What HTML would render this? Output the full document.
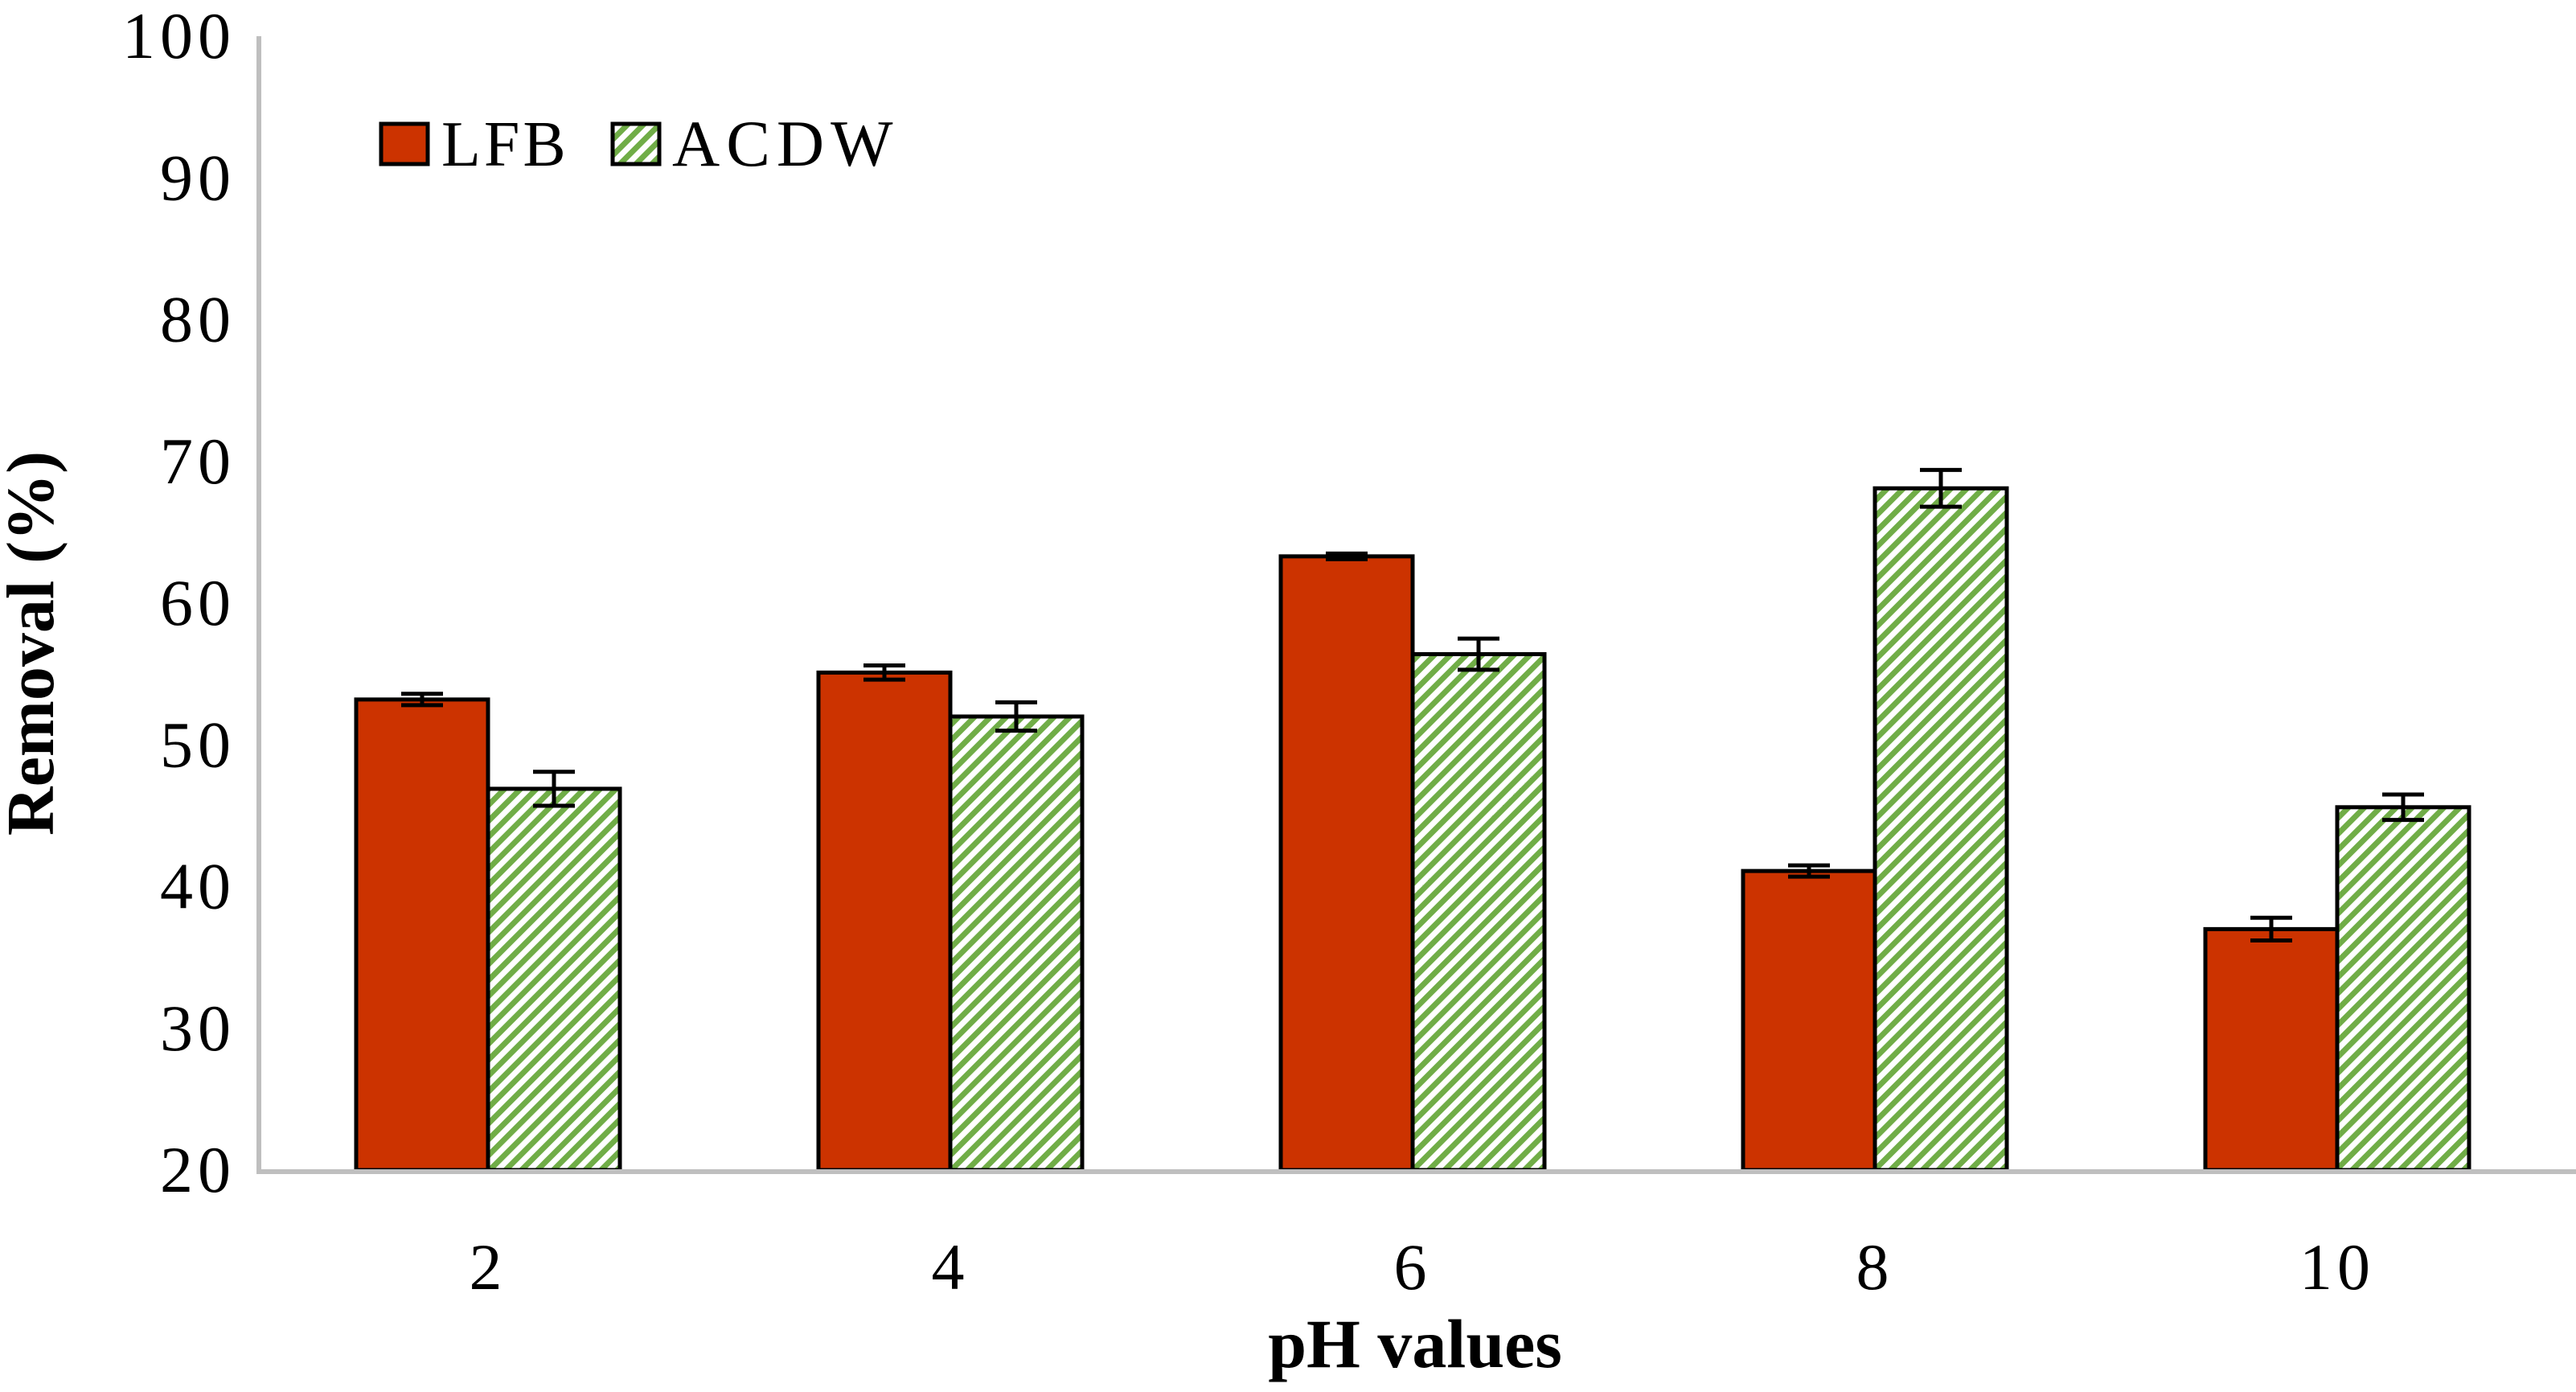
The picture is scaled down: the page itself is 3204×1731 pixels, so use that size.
<!DOCTYPE html>
<html><head><meta charset="utf-8">
<style>
html,body{margin:0;padding:0;background:#fff;}
svg{display:block;}
text{font-family:"Liberation Serif",serif;fill:#000;}
</style></head>
<body>
<svg id="chart" width="3204" height="1731" viewBox="0 0 3204 1731" xmlns="http://www.w3.org/2000/svg">
<defs>
<pattern id="hatch" patternUnits="userSpaceOnUse" width="14" height="14" patternTransform="rotate(45)">
<rect width="14" height="14" fill="#fff"/>
<rect x="0" y="0" width="7" height="14" fill="#70AD47"/>
</pattern>
</defs>
<g id="bars"></g>
<g id="axes"></g>
<g>
<rect x="474" y="154" width="58" height="50" fill="#CC3300" stroke="#000" stroke-width="5"/>
<text x="549" y="206" font-size="80" letter-spacing="4">LFB</text>
<rect x="762" y="154" width="58" height="50" fill="url(#hatch)" stroke="#000" stroke-width="5"/>
<text x="836" y="206" font-size="82" letter-spacing="8">ACDW</text>
</g>
<text x="1760" y="1700" font-size="86" font-weight="bold" text-anchor="middle">pH values</text>
<text transform="translate(66,800) rotate(-90)" font-size="84" font-weight="bold" text-anchor="middle">Removal (%)</text>
</svg>
<script>
const categories = ["2","4","6","8","10"];
const lfbValues = [53.2, 55.1, 63.3, 41.1, 37.0];
const lfbErrors = [0.4, 0.5, 0.2, 0.4, 0.8];
const acdwValues = [46.9, 52.0, 56.4, 68.1, 45.6];
const acdwErrors = [1.2, 1.0, 1.1, 1.3, 0.9];
const yTicks = [20,30,40,50,60,70,80,90,100];

const NS = "http://www.w3.org/2000/svg";
const plotL = 322, plotR = 3204, yMin = 20, yMax = 100, pxBottom = 1455, pxTop = 45;
const y = v => pxBottom - (v - yMin) / (yMax - yMin) * (pxBottom - pxTop);
const catW = 575;
const xc = i => 607 + catW * i;
const barW = 164;

function mk(tag, attrs, parent){
  const e = document.createElementNS(NS, tag);
  for (const k in attrs) e.setAttribute(k, attrs[k]);
  parent.appendChild(e);
  return e;
}
const bars = document.getElementById('bars');
const axes = document.getElementById('axes');

function errBar(cx, v, err, parent, name){
  const g = mk('g', {stroke:'#000','stroke-width':5}, parent);
  
  
  mk('line', {x1:cx, x2:cx, y1:y(v+err), y2:y(v-err)}, g);
  mk('line', {x1:cx-26, x2:cx+26, y1:y(v+err), y2:y(v+err)}, g);
  mk('line', {x1:cx-26, x2:cx+26, y1:y(v-err), y2:y(v-err)}, g);
}

categories.forEach((c, i) => {
  const cx = xc(i);
  const r1 = mk('rect', {x:cx-barW, y:y(lfbValues[i]), width:barW, height:y(yMin)-y(lfbValues[i]), fill:'#CC3300', stroke:'#000','stroke-width':5}, bars);
  
  
  const r2 = mk('rect', {x:cx, y:y(acdwValues[i]), width:barW, height:y(yMin)-y(acdwValues[i]), fill:'url(#hatch)', stroke:'#000','stroke-width':5}, bars);
  
  
  errBar(cx - barW/2, lfbValues[i], lfbErrors[i], bars, 'error-bar-lfb-ph' + c);
  errBar(cx + barW/2, acdwValues[i], acdwErrors[i], bars, 'error-bar-acdw-ph' + c);
  const t = mk('text', {x:cx, y:1603, 'font-size':82, 'letter-spacing':6, 'text-anchor':'middle'}, axes);
  t.textContent = c;
  
  
});

yTicks.forEach(v => {
  const t = mk('text', {x:293, y:y(v)+27, 'font-size':82, 'letter-spacing':6, 'text-anchor':'end'}, axes);
  t.textContent = v;
  
  
});

const ya = mk('line', {x1:plotL, x2:plotL, y1:pxTop, y2:pxBottom+2, stroke:'#BFBFBF','stroke-width':6}, axes);


const xa = mk('line', {x1:plotL-3, x2:plotR, y1:pxBottom+2, y2:pxBottom+2, stroke:'#BFBFBF','stroke-width':6}, axes);


</script>
</body></html>
